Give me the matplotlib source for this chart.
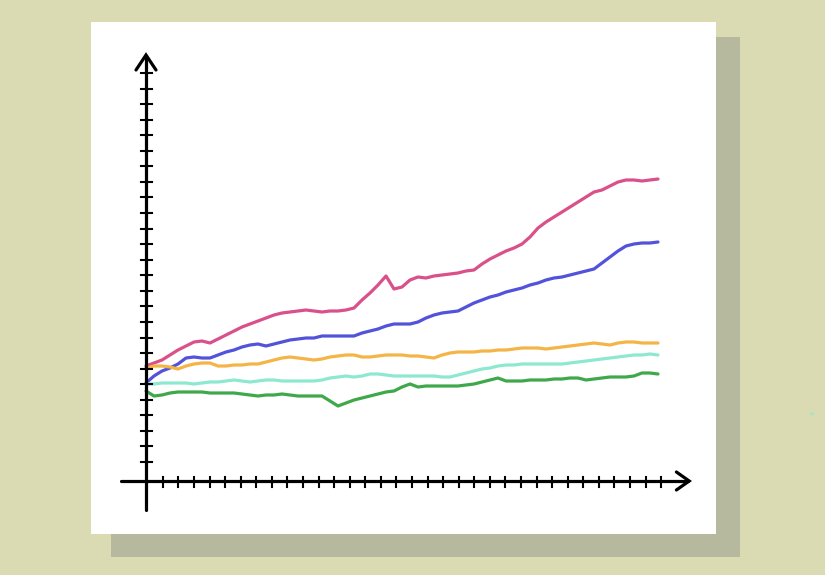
import numpy as np
import matplotlib
matplotlib.use("Agg")
import matplotlib.pyplot as plt
from matplotlib.patches import Rectangle

# readings along the x axis, 65 steps each (height above the x axis)
steps = np.arange(65)

pink = [115, 118, 121, 126, 131, 135, 139, 140, 138, 142,
        146, 150, 154, 157, 160, 163, 166, 168, 169, 170,
        171, 170, 169, 170, 170, 171, 173, 181, 188, 196,
        205, 192, 194, 201, 204, 203, 205, 206, 207, 208,
        210, 211, 217, 222, 226, 230, 233, 237, 244, 253,
        259, 264, 269, 274, 279, 284, 289, 291, 295, 299,
        301, 301, 300, 301, 302]

blue = [98, 105, 110, 113, 117, 123, 124, 123, 123, 126,
        129, 131, 134, 136, 137, 135, 137, 139, 141, 142,
        143, 143, 145, 145, 145, 145, 145, 148, 150, 152,
        155, 157, 157, 157, 159, 163, 166, 168, 169, 170,
        174, 178, 181, 184, 186, 189, 191, 193, 196, 198,
        201, 203, 204, 206, 208, 210, 212, 218, 224, 230,
        235, 237, 238, 238, 239]

orange = [113, 115, 115, 114, 112, 115, 117, 118, 118, 115,
          115, 116, 116, 117, 117, 119, 121, 123, 124, 123,
          122, 121, 122, 124, 125, 126, 126, 124, 124, 125,
          126, 126, 126, 125, 125, 124, 123, 126, 128, 129,
          129, 129, 130, 130, 131, 131, 132, 133, 133, 133,
          132, 133, 134, 135, 136, 137, 138, 137, 136, 138,
          139, 139, 138, 138, 138]

mint = [97, 97, 98, 98, 98, 98, 97, 98, 99, 99,
        100, 101, 100, 99, 100, 101, 101, 100, 100, 100,
        100, 100, 101, 103, 104, 105, 104, 105, 107, 107,
        106, 105, 105, 105, 105, 105, 105, 104, 104, 106,
        108, 110, 112, 113, 115, 116, 116, 117, 117, 117,
        117, 117, 117, 118, 119, 120, 121, 122, 123, 124,
        125, 126, 126, 127, 126]

green = [90, 85, 86, 88, 89, 89, 89, 89, 88, 88,
         88, 88, 87, 86, 85, 86, 86, 87, 86, 85,
         85, 85, 85, 80, 75, 78, 81, 83, 85, 87,
         89, 90, 94, 97, 94, 95, 95, 95, 95, 95,
         96, 97, 99, 101, 103, 100, 100, 100, 101, 101,
         101, 102, 102, 103, 103, 101, 102, 103, 104, 104,
         104, 105, 108, 108, 107]

series = [pink, blue, orange, mint, green]
colors = ["#d9508a", "#5252da", "#f5b446", "#8ce9cf", "#3ea84a"]

W, H = 825, 575
fig = plt.figure(figsize=(8.25, 5.75), dpi=100)
fig.patch.set_facecolor("#dadbb3")

# shadow + white card
fig.patches.append(Rectangle((111 / W, 18 / H), 629 / W, 520 / H,
                             transform=fig.transFigure, facecolor="#b6b99d",
                             edgecolor="none", zorder=0))
fig.patches.append(Rectangle((91 / W, 41 / H), 625 / W, 512 / H,
                             transform=fig.transFigure, facecolor="white",
                             edgecolor="none", zorder=0.5))

# axes: 8 px per step horizontally, 1 px per unit vertically
left_px, right_px, top_px, bot_px = 100, 710, 40, 520
ax = fig.add_axes([left_px / W, (H - bot_px) / H,
                   (right_px - left_px) / W, (bot_px - top_px) / H])
ax.set_zorder(5)
ax.set_xlim((left_px - 146) / 8, (right_px - 146) / 8)
ax.set_ylim(481 - bot_px, 481 - top_px)
ax.axis("off")
ax.patch.set_visible(False)

for vals, c in zip(series, colors):
    ax.plot(steps, vals, color=c, lw=2.3, solid_capstyle="round",
            solid_joinstyle="round", zorder=3)

# hand drawn axes with arrows
ax.plot([-3.1, 67.8], [0, 0], color="black", lw=2.3, zorder=4,
        solid_capstyle="round")
ax.plot([0, 0], [-29, 425], color="black", lw=2.3, zorder=4,
        solid_capstyle="round")
ax.plot([66.3, 67.9, 66.3], [9, 0, -9], color="black", lw=2.3, zorder=4,
        solid_capstyle="round", solid_joinstyle="miter")
ax.plot([-1.25, 0, 1.25], [411, 426, 411], color="black", lw=2.3, zorder=4,
        solid_capstyle="round", solid_joinstyle="miter")

xticks = np.linspace(2.1, 64.4, 33)
for xt in xticks:
    ax.plot([xt, xt], [-6, 4], color="black", lw=1.5, zorder=4)
yticks = np.linspace(19, 408, 26)
for yt in yticks:
    ax.plot([-0.65, 0.7], [yt, yt], color="black", lw=1.5, zorder=4)

# small stray dot on the background
fig.patches.append(plt.Circle((812 / W, (H - 414) / H), 2.2 / W,
                              transform=fig.transFigure,
                              facecolor="#9fe6c4", edgecolor="none",
                              alpha=0.8, zorder=1))

fig.savefig("out.png", dpi=100, facecolor=fig.get_facecolor())
